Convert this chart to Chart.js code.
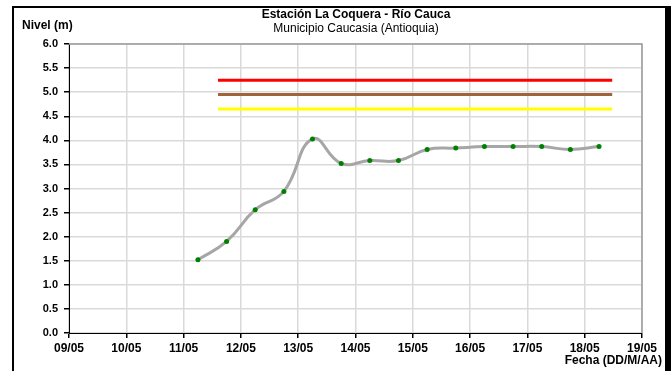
<!DOCTYPE html>
<html>
<head>
<meta charset="utf-8">
<script src="https://cdn.jsdelivr.net/npm/chart.js@4/dist/chart.umd.min.js"></script>
<style>
  html, body { margin:0; padding:0; background:#fff; overflow:hidden; }
  #wrap { position:relative; width:671px; height:371px; }
  #marco { position:absolute; left:12px; top:6px; right:0; bottom:-10px;
           border:2px solid #000; border-right-width:6px; pointer-events:none; }
  canvas { position:absolute; left:0; top:0; }
</style>
</head>
<body>
<div id="wrap">
  <canvas id="grafica" width="671" height="371"></canvas>
  <div id="marco"></div>
</div>
<script>
// dias contados desde 09/05 00:00
var dias   = [2.25, 2.75, 3.25, 3.75, 4.25, 4.75, 5.25, 5.75, 6.25, 6.75, 7.25, 7.75, 8.25, 8.75, 9.25];
var niveles = [1.52, 1.90, 2.56, 2.94, 4.03, 3.52, 3.58, 3.58, 3.81, 3.84, 3.87, 3.87, 3.87, 3.81, 3.87];

// umbrales de alerta (m)
var umbrales = [5.25, 4.95, 4.65];
var umbralDesde = 2.6, umbralHasta = 9.48;
var coloresUmbral = ['#ff0000', '#a0643c', '#ffff00'];

var titulo = 'Estación La Coquera - Río Cauca';
var subtitulo = 'Municipio Caucasia (Antioquia)';
var tituloY = 'Nivel (m)';
var tituloX = 'Fecha (DD/M/AA)';

var fuente = "'Liberation Sans', Arial, sans-serif";

var serie = [];
for (var i = 0; i < dias.length; i++) {
    serie.push({x: dias[i], y: niveles[i]});
}

var datasets = [];
for (var j = 0; j < umbrales.length; j++) {
    datasets.push({
        data: [{x: umbralDesde, y: umbrales[j]}, {x: umbralHasta, y: umbrales[j]}],
        borderColor: coloresUmbral[j],
        borderWidth: 3,
        pointRadius: 0,
        tension: 0
    });
}
datasets.push({
    data: serie,
    borderColor: '#a6a6a6',
    borderWidth: 3,
    tension: 0.45,
    pointRadius: 2.5,
    pointBackgroundColor: '#008000',
    pointBorderWidth: 0
});

var textos = {
    id: 'textos',
    afterDraw: function(chart) {
        var ctx = chart.ctx;
        var a = chart.chartArea;
        ctx.save();
        // borde superior y derecho del area
        ctx.strokeStyle = '#9a9a9a';
        ctx.lineWidth = 1.5;
        ctx.beginPath();
        ctx.moveTo(a.left, a.top);
        ctx.lineTo(a.right, a.top);
        ctx.lineTo(a.right, a.bottom);
        ctx.stroke();

        ctx.fillStyle = '#000';
        ctx.textBaseline = 'middle';
        ctx.textAlign = 'center';
        ctx.font = 'bold 12px ' + fuente;
        ctx.fillText(titulo, 356, 15);
        ctx.font = '12px ' + fuente;
        ctx.fillText(subtitulo, 356, 29);
        ctx.textAlign = 'left';
        ctx.font = 'bold 12px ' + fuente;
        ctx.fillText(tituloY, 22, 26);
        ctx.textAlign = 'right';
        ctx.fillText(tituloX, 662, 361);
        ctx.restore();
    }
};

var myChart = new Chart(document.getElementById('grafica').getContext('2d'), {
    type: 'line',
    data: { datasets: datasets },
    options: {
        responsive: false,
        animation: false,
        layout: { padding: { top: 44, right: 29, left: 0, bottom: 0 } },
        plugins: { legend: { display: false }, tooltip: { enabled: false } },
        scales: {
            x: {
                type: 'linear',
                min: 0, max: 10,
                afterFit: function(s) { s.height = 38; },
                grid: { color: '#d9d9d9', lineWidth: 1.5, tickColor: '#000', tickLength: 5 },
                border: { color: '#000', width: 1 },
                ticks: {
                    stepSize: 1, autoSkip: false, maxRotation: 0, padding: 3,
                    color: '#000',
                    font: { family: fuente, size: 12, weight: 'bold' },
                    callback: function(v) {
                        var d = 9 + v;
                        return (d < 10 ? '0' + d : d) + '/05';
                    }
                }
            },
            y: {
                min: 0, max: 6,
                afterFit: function(s) { s.width = 69; },
                grid: { color: '#d9d9d9', lineWidth: 1.5, tickColor: '#000', tickLength: 5 },
                border: { color: '#000', width: 1 },
                ticks: {
                    stepSize: 0.5, padding: 6, color: '#000',
                    font: { family: fuente, size: 11, weight: 'bold' },
                    callback: function(v) { return v.toFixed(1); }
                }
            }
        }
    },
    plugins: [textos]
});
</script>
</body>
</html>
